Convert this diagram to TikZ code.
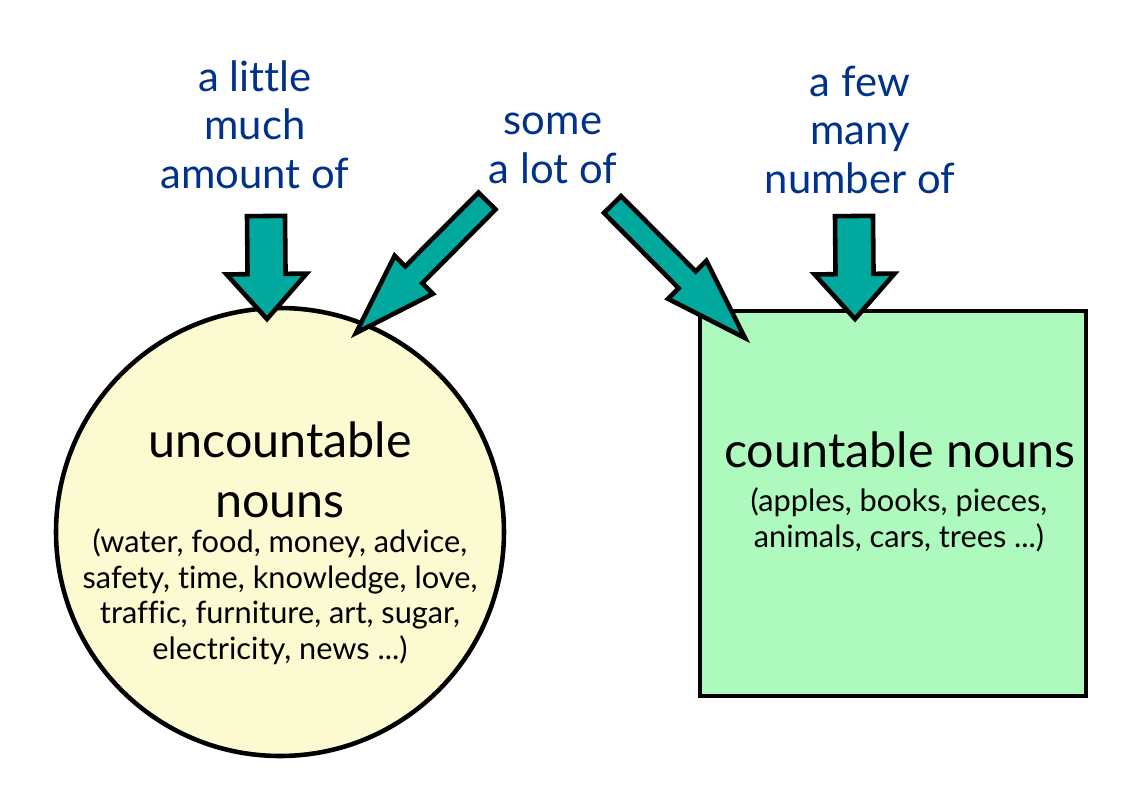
\documentclass[tikz,border=0pt]{standalone}
\usepackage{fontspec}
\setmainfont{Lato}[Ligatures=NoCommon]
\usetikzlibrary{calc}
\definecolor{wordblue}{RGB}{0,50,140}
\definecolor{arrowteal}{RGB}{0,168,157}
\definecolor{uncfill}{RGB}{251,250,208}
\definecolor{cntfill}{RGB}{174,249,190}
\tikzset{
  quant/.style={text=wordblue,font=\fontsize{11.9}{13.7}\selectfont,align=center,inner sep=0pt,anchor=base},
  title/.style={font=\fontsize{13.8}{16.8}\selectfont,align=center,inner sep=0pt,anchor=base},
  examples/.style={font=\fontsize{8.75}{10.1}\selectfont,align=center,inner sep=0pt,anchor=base},
  arrowbox/.style={draw=black,fill=arrowteal,line width=1.3pt}
}
% block arrow: tail, tip, shaft half width, head half width, head length
\newcommand{\blockarrow}[5]{%
  \coordinate (neck) at ($(#2)!#5!(#1)$);
  \draw[arrowbox] ($(#1)!#3!90:(#2)$) -- ($(neck)!#3!90:(#2)$) -- ($(neck)!#4!90:(#2)$)
    -- (#2) -- ($(neck)!#4!-90:(#2)$) -- ($(neck)!#3!-90:(#2)$) -- ($(#1)!#3!-90:(#2)$) -- cycle;
}
\begin{document}
\begin{tikzpicture}
	\useasboundingbox (0,0) rectangle (11.36,-7.96);
	%\draw[help lines] (0,0) grid (11,-8);
	\node[draw,shape=circle,fill=uncfill,line width=1.3pt,inner sep=0pt,minimum size=4.48cm] (unc) at (2.80,-5.32) {};
	\node[draw,shape=rectangle,fill=cntfill,line width=1.3pt,inner sep=0pt,minimum width=3.86cm,minimum height=3.85cm] (cnt) at (8.93,-5.035) {};

	% base anchor sits on the last line
	\node[title] (unctitle) at (2.80,-5.17) {uncountable\\nouns};
	\node[examples] (uncex) at (2.80,-6.59) {(water, food, money, advice,\\safety, time, knowledge, love,\\traffic, furniture, art, sugar,\\electricity, news ...)};
	\node[title] (cnttitle) at (9.00,-4.67) {countable nouns};
	\node[examples] (cntex) at (8.99,-5.47) {(apples, books, pieces,\\animals, cars, trees ...)};

	\node[quant] (little) at (2.55,-1.88) {a little\\much\\amount of};
	\node[quant] (some) at (5.53,-1.83) {some\\a lot of};
	\node[quant] (few) at (8.60,-1.93) {a few\\many\\number of};

	\coordinate (littletail) at (2.66,-2.16);
	\coordinate (littletip) at (2.67,-3.19);
	\coordinate (fewtail) at (8.54,-2.16);
	\coordinate (fewtip) at (8.55,-3.19);
	\coordinate (someltail) at (4.87,-2.01);
	\coordinate (someltip) at (3.56,-3.33);
	\coordinate (somertail) at (6.125,-2.045);
	\coordinate (somertip) at (7.45,-3.38);

	\blockarrow{littletail}{littletip}{0.19cm}{0.40cm}{0.45cm}
	\blockarrow{fewtail}{fewtip}{0.19cm}{0.40cm}{0.45cm}
	\blockarrow{someltail}{someltip}{0.12cm}{0.27cm}{0.82cm}
	\blockarrow{somertail}{somertip}{0.12cm}{0.27cm}{0.82cm}
\end{tikzpicture}
\end{document}
